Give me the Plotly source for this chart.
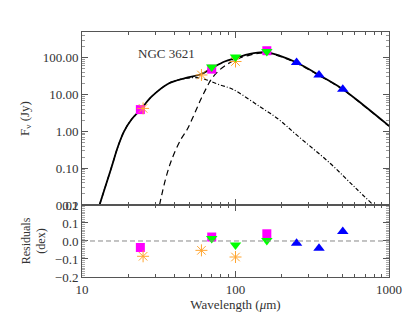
import plotly.graph_objects as go
from plotly.subplots import make_subplots

# ---------------- data ----------------
# photometry (wavelength um, flux Jy)
mips_wl = [24, 70, 160]
mips_f = [3.9, 49, 155]
pacs_wl = [70, 100, 160]
pacs_f = [56, 104, 148]
iras_wl = [25, 60, 100]
iras_f = [4.2, 34, 79]
spire_wl = [250, 350, 500]
spire_f = [74, 34, 14]

# residuals (dex)
mips_res = [-0.036, 0.022, 0.040]
pacs_res = [0.014, -0.022, 0.003]
iras_res = [-0.085, -0.052, -0.089]
spire_res = [-0.013, -0.041, 0.053]

# model curves
tot_wl = [13.0, 15.5, 17.2, 18.8, 21, 24, 28.6, 36.7, 47, 59, 70, 85, 100, 124, 156, 195, 250, 350, 500, 680, 1000]
tot_f = [0.01, 0.1, 0.4, 1.0, 2.1, 3.85, 9.0, 20, 28, 35, 52, 79, 98, 128, 142, 113, 74, 34, 14, 5.2, 1.41]

cold_wl = [32, 35, 38.4, 44, 48.3, 53, 60, 70, 78, 85, 100, 124, 156, 195, 250, 350, 500, 680, 1000]
cold_f = [0.01, 0.05, 0.17, 0.6, 1.1, 2.5, 8, 27, 45, 60, 88, 118, 136, 109, 71, 33, 13.7, 5.1, 1.38]

warm_wl = [13.0, 15.5, 17.2, 18.8, 21, 24, 28.6, 36.7, 47, 59, 66.5, 80, 92, 102, 144, 190, 250, 413, 600, 790]
warm_f = [0.01, 0.1, 0.4, 1.0, 2.1, 3.85, 9.0, 20, 27.5, 28, 24, 18, 15, 12.1, 4.7, 2.15, 0.80, 0.136, 0.03, 0.01]

x_ticks = [10, 100, 1000]
x_ticktext = ["10", "100", "1000"]
x_minor = [20, 30, 40, 50, 60, 70, 80, 90, 200, 300, 400, 500, 600, 700, 800, 900]
y1_ticks = [0.01, 0.1, 1, 10, 100]
y1_ticktext = ["0.01", "0.10", "1.00", "10.00", "100.00"]
y1_minor = [m * d for d in [0.01, 0.1, 1, 10, 100] for m in range(2, 10)]
y2_ticks = [-0.2, -0.1, 0.0, 0.1, 0.2]
y2_ticktext = ["\u22120.2", "\u22120.1", "0.0", "0.1", "0.2"]

# ---------------- figure ----------------
FONT = "Liberation Serif"
AX = "#555555"
TXT = "#333333"
MAG = "#FF00FF"
GRN = "#00FF00"
BLU = "#0000FF"
ORG = "#FFA530"

fig = make_subplots(rows=2, cols=1, shared_xaxes=True, vertical_spacing=0,
                    row_heights=[0.706, 0.294])

fig.add_trace(go.Scatter(x=warm_wl, y=warm_f, mode="lines", line_shape="spline",
                         line=dict(color="black", width=1.2, dash="4px,2px,1px,2px")), 1, 1)
fig.add_trace(go.Scatter(x=cold_wl, y=cold_f, mode="lines", line_shape="spline",
                         line=dict(color="black", width=1.2, dash="6px,4px")), 1, 1)
fig.add_trace(go.Scatter(x=tot_wl, y=tot_f, mode="lines", line_shape="spline",
                         line=dict(color="black", width=1.8)), 1, 1)


def pts(x, y, row, symbol, color, size, line=None):
    mk = dict(symbol=symbol, color=color, size=size)
    if line is not None:
        mk["line"] = line
    else:
        mk["line"] = dict(width=0)
    fig.add_trace(go.Scatter(x=x, y=y, mode="markers", marker=mk), row, 1)


for row, (a, b, c, d) in [(1, (mips_f, pacs_f, iras_f, spire_f)),
                          (2, (mips_res, pacs_res, iras_res, spire_res))]:
    pts(mips_wl, a, row, "square", MAG, 9)
    pts(iras_wl, c, row, "asterisk-open", ORG, 10, dict(color=ORG, width=1))
    pts(pacs_wl, b, row, "triangle-down", GRN, 10)
    pts(spire_wl, d, row, "triangle-up", BLU, 10)

fig.add_hline(y=0, row=2, col=1, line=dict(color="#888888", width=1, dash="5px,3px"))

axis_common = dict(showline=True, linecolor=AX, linewidth=1, mirror="ticks",
                   ticks="inside", tickcolor=AX, ticklen=6, tickwidth=1,
                   showgrid=False, zeroline=False, automargin=False,
                   tickfont=dict(family=FONT, size=13, color=TXT))

fig.update_xaxes(type="log", range=[1, 3], tickvals=x_ticks, ticktext=x_ticktext,
                 minor=dict(tickvals=x_minor, ticks="inside", ticklen=3, tickcolor=AX),
                 **axis_common)
fig.update_xaxes(showticklabels=False, row=1, col=1)
fig.update_xaxes(title=dict(text="Wavelength (<i>\u03bc</i>m)", standoff=2,
                            font=dict(family=FONT, size=13, color=TXT)), row=2, col=1)

fig.update_yaxes(type="log", range=[-2, 2.699], tickvals=y1_ticks, ticktext=y1_ticktext,
                 minor=dict(tickvals=y1_minor, ticks="inside", ticklen=3, tickcolor="#999999"),
                 title=dict(text="F<sub>\u03bd</sub> (Jy)", standoff=10,
                            font=dict(family=FONT, size=13, color=TXT)),
                 row=1, col=1, **axis_common)
fig.update_yaxes(range=[-0.2, 0.2], tickvals=y2_ticks, ticktext=y2_ticktext,
                 minor=dict(dtick=0.01, ticks="inside", ticklen=3, tickcolor="#aaaaaa"),
                 title=dict(text="Residuals<br>(dex)", standoff=6,
                            font=dict(family=FONT, size=12, color=TXT)),
                 row=2, col=1, **axis_common)

fig.add_annotation(text="NGC 3621", xref="paper", yref="paper", x=0.175, y=0.95,
                   showarrow=False, font=dict(family=FONT, size=13, color=TXT))

fig.update_layout(width=409, height=316, margin=dict(l=82, r=20, t=32, b=39, autoexpand=False),
                  paper_bgcolor="white", plot_bgcolor="white", showlegend=False)

fig.write_html("out.html", config={"displayModeBar": False},
               post_script="document.body.style.margin='0';")
